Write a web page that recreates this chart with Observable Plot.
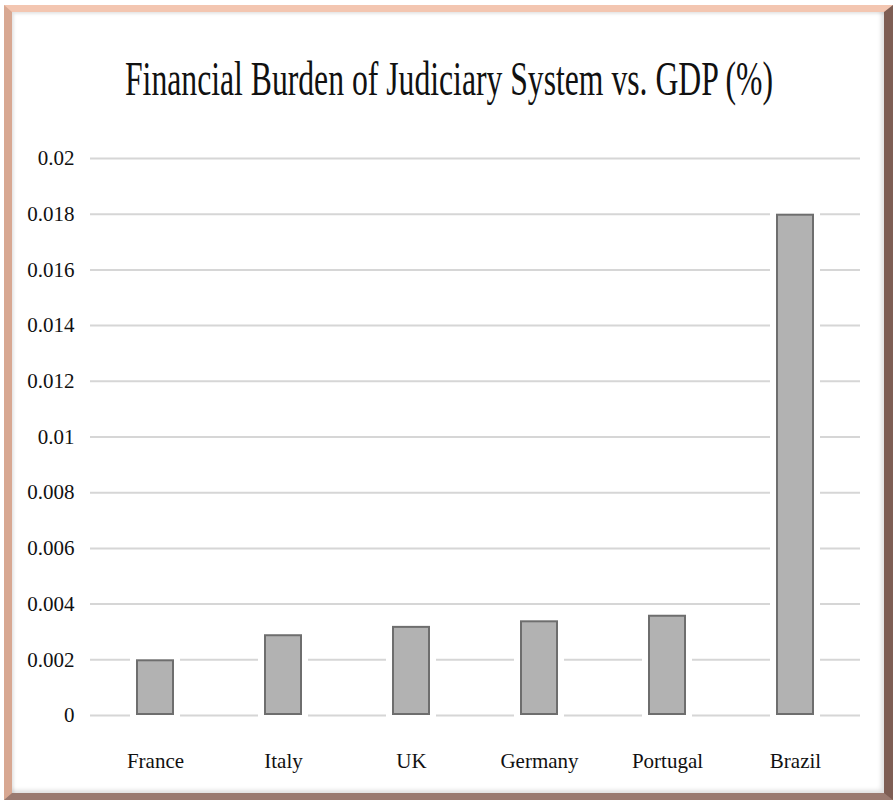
<!DOCTYPE html>
<html>
<head>
<meta charset="utf-8">
<script src="https://cdn.jsdelivr.net/npm/d3@7"></script>
<script src="https://cdn.jsdelivr.net/npm/@observablehq/plot@0.6"></script>
<style>
  html, body { margin: 0; padding: 0; background: #ffffff; }
  #page { position: relative; width: 893px; height: 800px; overflow: hidden; background: #fff; }
  #frame {
    position: absolute; left: 4px; top: 5px; width: 889px; height: 795px; box-sizing: border-box;
    border-top: 7px solid #f3c6b1; border-left: 8px solid #d8a892;
    border-right: 9px solid #7e5e54; border-bottom: 7px solid #9a7a70;
    box-shadow: inset 2px 2px 3px rgba(0,0,0,0.10), inset -3px -3px 4px rgba(0,0,0,0.12);
  }
  #title {
    position: absolute; left: 0; top: 51px; width: 893px; height: 56px;
    font-family: "Liberation Serif", "Times New Roman", serif; font-size: 48px; color: #111;
    line-height: 56px; white-space: nowrap;
  }
  #title span { position: absolute; left: 449px; top: 0; transform-origin: 0 50%; }
  #chart { position: absolute; left: 0; top: 0; }
</style>
</head>
<body>
<div id="page">
  <div id="frame"></div>
  <div id="chart"></div>
  <div id="title"><span id="tspan">Financial Burden of Judiciary System vs. GDP (%)</span></div>
</div>
<script>
const countries = ["France", "Italy", "UK", "Germany", "Portugal", "Brazil"];
const burden = [0.002, 0.0029, 0.0032, 0.0034, 0.0036, 0.018];
const yTicks = [0, 0.002, 0.004, 0.006, 0.008, 0.01, 0.012, 0.014, 0.016, 0.018, 0.02];
const yTickLabels = ["0", "0.002", "0.004", "0.006", "0.008", "0.01", "0.012", "0.014", "0.016", "0.018", "0.02"];

const data = countries.map((c, i) => ({country: c, value: burden[i]}));

const chart = Plot.plot({
  width: 893,
  height: 800,
  marginLeft: 90,
  marginRight: 33,
  marginTop: 158,
  marginBottom: 85,
  style: {fontFamily: "'Liberation Serif', 'Times New Roman', serif", fontSize: "21px", color: "#111", background: "transparent"},
  x: {domain: countries, paddingInner: 0.704, paddingOuter: 0.352, label: null},
  y: {domain: [0, 0.02], label: null},
  marks: [
    Plot.ruleY(yTicks, {stroke: "#d6d6d6", strokeWidth: 2}),
    Plot.barY(data, {x: "country", y: "value", fill: "#ffffff", stroke: "#ffffff", strokeWidth: 12}),
    Plot.barY(data, {x: "country", y: "value", fill: "#b2b2b2", stroke: "#6e6e6e", strokeWidth: 2, inset: 1}),
    Plot.axisY({ticks: yTicks, tickFormat: (d) => yTickLabels[yTicks.indexOf(d)], tickSize: 0, tickPadding: 16, label: null, fill: "#111"}),
    Plot.axisX({tickSize: 0, tickPadding: 38, label: null, fill: "#111"})
  ]
});
document.getElementById("chart").appendChild(chart);

const sp = document.getElementById("tspan");
const w = sp.getBoundingClientRect().width;
const k = 648 / w;
sp.style.transform = `translateX(${-w * k / 2}px) scaleX(${k})`;
</script>
</body>
</html>
